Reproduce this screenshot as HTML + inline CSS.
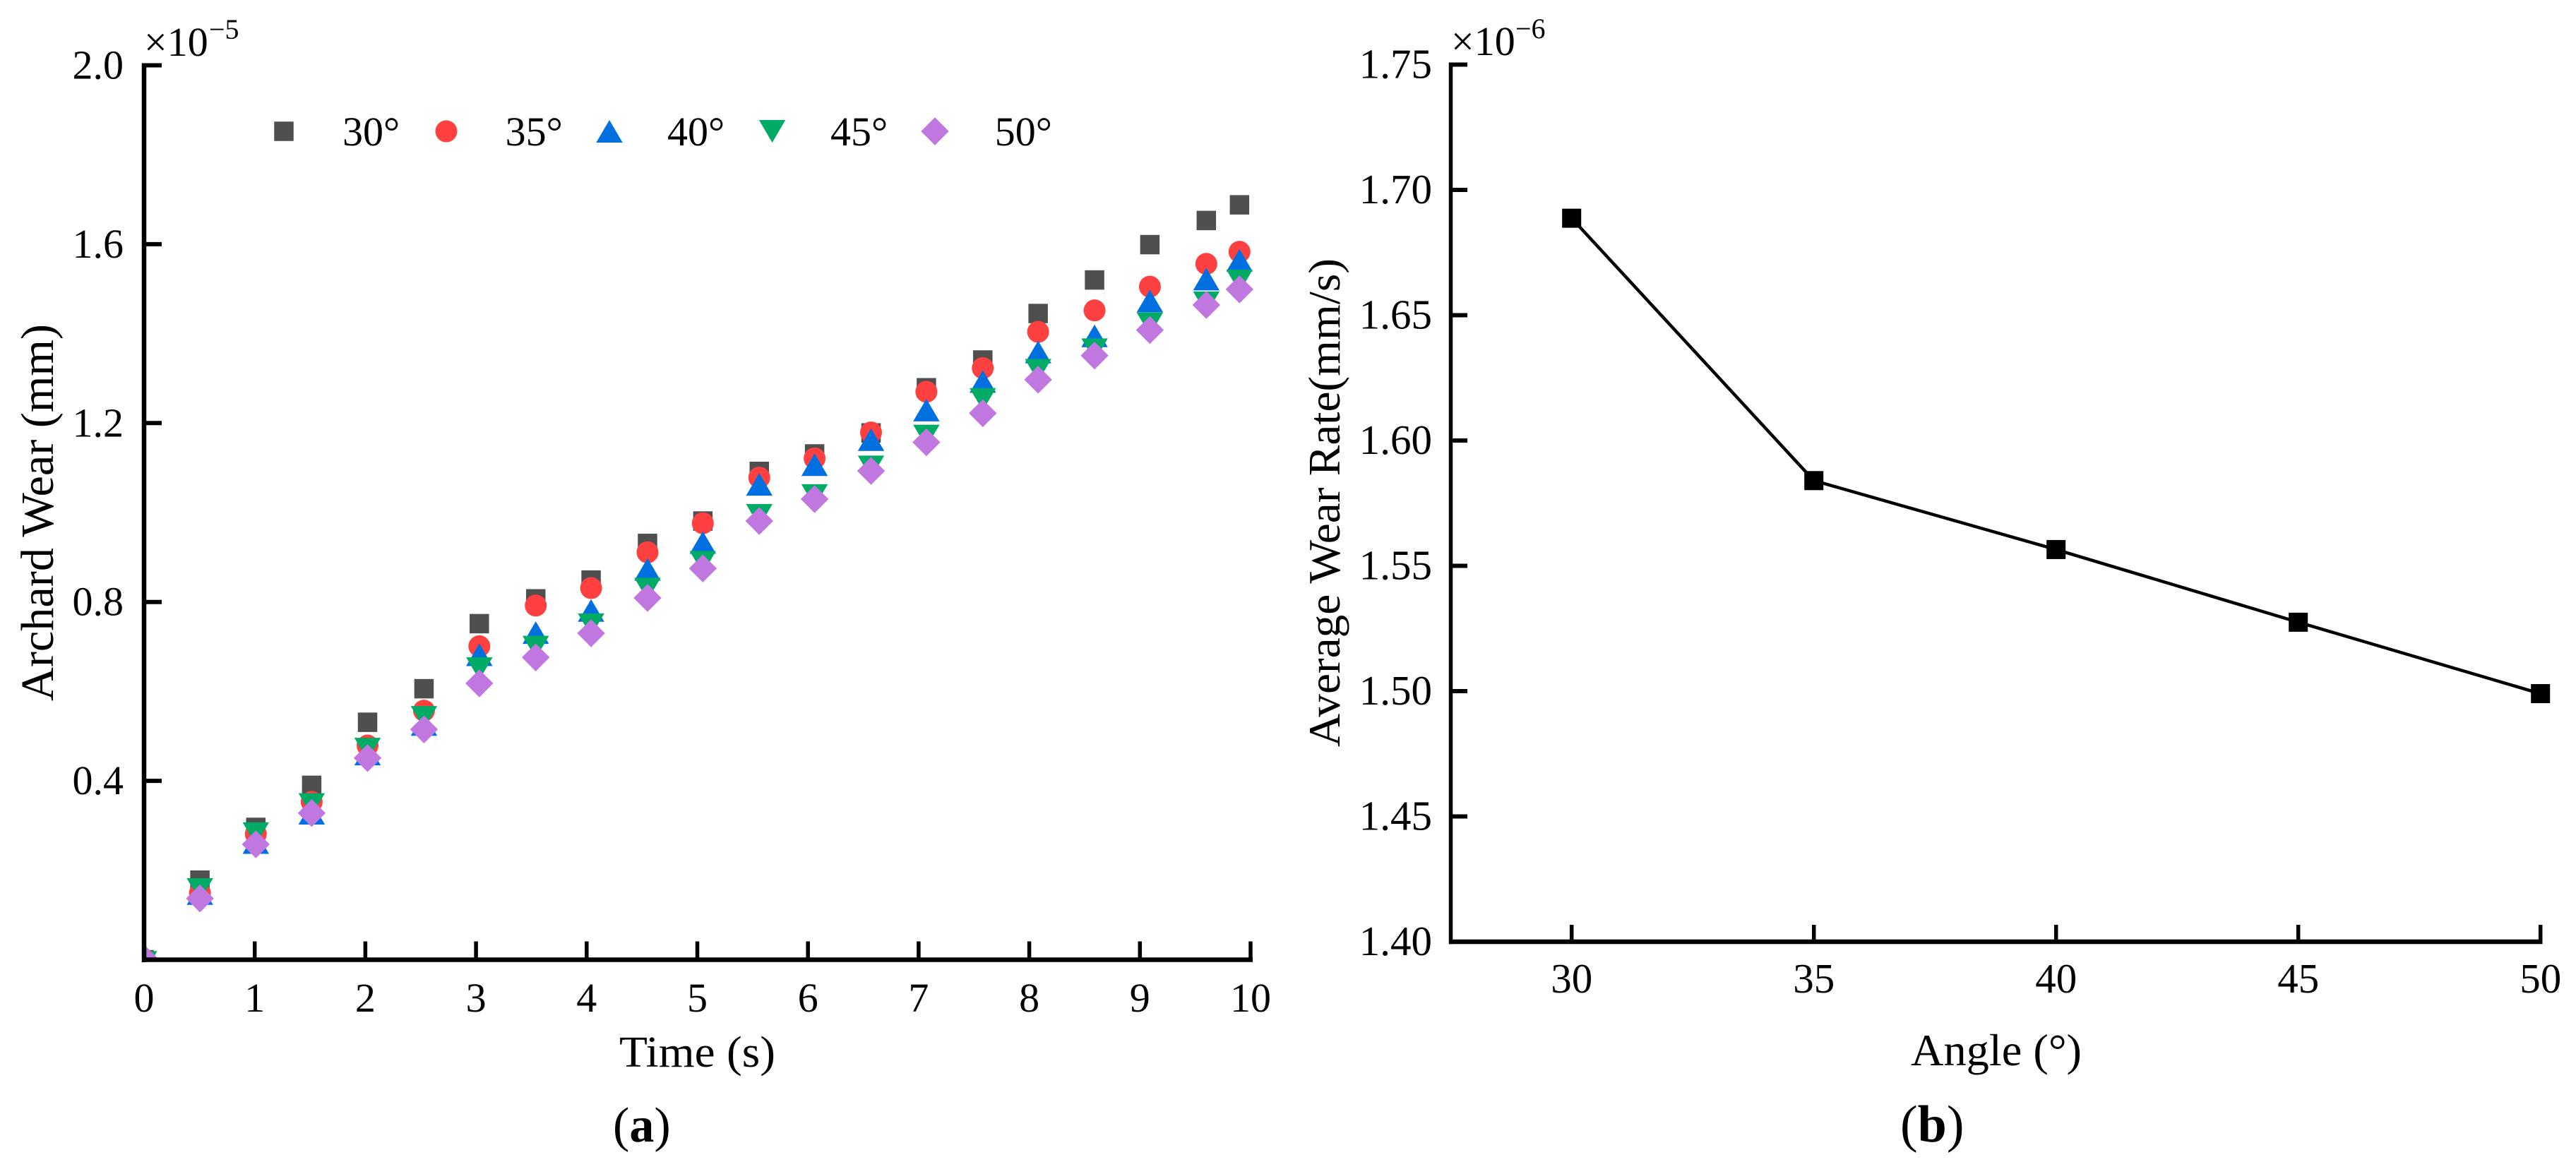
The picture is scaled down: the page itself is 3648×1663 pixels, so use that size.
<!DOCTYPE html>
<html lang="en">
<head>
<meta charset="utf-8">
<title>Archard wear and average wear rate</title>
<style>
html,body{margin:0;padding:0;background:#fff;}
svg{display:block;}
text{font-family:"Liberation Serif",serif;fill:#000;}
</style>
</head>
<body>
<svg id="fig" xmlns="http://www.w3.org/2000/svg" width="3648" height="1663" viewBox="0 0 3648 1663">
<defs><clipPath id="clipA"><rect x="204" y="60" width="1620" height="1297"/></clipPath></defs>
<rect width="3648" height="1663" fill="#fff"/>
<g id="panelA"></g>
<g id="panelB"></g>
</svg>
<script>
// Panel (a) data
const timeValues = [0,0.505,1.01,1.515,2.02,2.53,3.03,3.54,4.04,4.55,5.05,5.56,6.06,6.57,7.07,7.58,8.08,8.59,9.09,9.6,9.9];
const wear30 = [0,0.178,0.296,0.39,0.531,0.606,0.7515,0.807,0.849,0.931,0.981,1.092,1.131,1.178,1.279,1.341,1.445,1.52,1.599,1.653,1.688];
const wear35 = [0,0.149,0.281,0.353,0.479,0.557,0.701,0.792,0.831,0.911,0.976,1.078,1.121,1.179,1.27,1.323,1.404,1.452,1.505,1.556,1.583];
const wear40 = [0.006,0.148,0.262,0.3275,0.46,0.526,0.682,0.7315,0.781,0.873,0.933,1.063,1.107,1.163,1.229,1.293,1.359,1.395,1.473,1.522,1.564];
const wear45 = [-0.006,0.157,0.282,0.347,0.471,0.542,0.651,0.699,0.749,0.829,0.889,0.9936,1.038,1.102,1.171,1.253,1.318,1.364,1.422,1.469,1.518];
const wear50 = [0.003,0.137,0.258,0.328,0.451,0.515,0.618,0.676,0.73,0.809,0.875,0.981,1.03,1.093,1.157,1.222,1.297,1.351,1.408,1.464,1.499];
const seriesLabels = ["30°","35°","40°","45°","50°"];
const xTicksA = [0,1,2,3,4,5,6,7,8,9,10];
const yTicksA = [0.4,0.8,1.2,1.6,2.0];
// Panel (b) data
const angleValues = [30,35,40,45,50];
const rateValues = [1.6887,1.584,1.5565,1.5275,1.499];
const xTicksB = [30,35,40,45,50];
const yTicksB = [1.40,1.45,1.50,1.55,1.60,1.65,1.70,1.75];

const NS = "http://www.w3.org/2000/svg";
const xA = v => 204 + v * 156.7;
const yA = v => 1359.5 - v * 633.5;
const xB = v => 2225.7 + (v - 30) * 68.6;
const yB = v => 1334 - (v - 1.40) * 3550;
const COLORS = ["#4f4f4f","#ff4040","#006fe0","#00ab66","#c078e0"];

function mk(tag, parent, attrs, txt) {
  const el = document.createElementNS(NS, tag);
  for (const k in attrs) el.setAttribute(k, attrs[k]);
  if (txt !== undefined) el.textContent = txt;
  parent.appendChild(el);
  return el;
}
function marker(parent, kind, cx, cy) {
  if (kind === 0) return mk("rect", parent, {x:cx-13.75,y:cy-13.75,width:27.5,height:27.5,fill:COLORS[0]});
  if (kind === 1) return mk("circle", parent, {cx:cx,cy:cy,r:15.5,fill:COLORS[1]});
  if (kind === 2) return mk("polygon", parent, {points:`${cx},${cy-16} ${cx+18.7},${cy+16} ${cx-18.7},${cy+16}`,fill:COLORS[2]});
  if (kind === 3) return mk("polygon", parent, {points:`${cx},${cy+16} ${cx+18.7},${cy-16} ${cx-18.7},${cy-16}`,fill:COLORS[3]});
  return mk("polygon", parent, {points:`${cx},${cy-19.7} ${cx+19.7},${cy} ${cx},${cy+19.7} ${cx-19.7},${cy}`,fill:COLORS[4]});
}

const A = document.getElementById("panelA");
const B = document.getElementById("panelB");

// Panel (a) series
const clipGroup = mk("g", A, {"clip-path":"url(#clipA)"});


const allWear = [wear30, wear35, wear40, wear45, wear50];
allWear.forEach((vals, s) => {
  const g = mk("g", clipGroup, {});
  
  
  vals.forEach((v, i) => {
    const m = marker(g, s, xA(timeValues[i]), yA(v));
    
    
  });
});

// Panel (a) axes
const axAY = mk("line", A, {x1:xA(0),y1:yA(2.0)-3,x2:xA(0),y2:yA(0)+3.5,stroke:"#000","stroke-width":6.5});


const axAX = mk("line", A, {x1:xA(0),y1:yA(0),x2:xA(10)+3,y2:yA(0),stroke:"#000","stroke-width":6.5});


xTicksA.forEach(t => {
  const l = mk("line", A, {x1:xA(t),y1:yA(0),x2:xA(t),y2:yA(0)-26,stroke:"#000","stroke-width":5.5});
  
  
  const lb = mk("text", A, {x:xA(t),y:1433,"font-size":58,"text-anchor":"middle"}, String(t));
  
  
});
yTicksA.forEach(t => {
  const l = mk("line", A, {x1:xA(0),y1:yA(t),x2:xA(0)+25,y2:yA(t),stroke:"#000","stroke-width":6});
  
  
  const lb = mk("text", A, {x:175,y:yA(t)+19,"font-size":58,"text-anchor":"end"}, t.toFixed(1));
  
  
});

// Panel (a) legend
const legX = [402,632,863,1093.6,1324];
const legTX = [485,715.6,945,1176,1408.7];
seriesLabels.forEach((lab, s) => {
  const m = marker(A, s, legX[s], 186);
  
  
  const t = mk("text", A, {x:legTX[s],y:206,"font-size":58}, lab);
  
  
});

// Panel (b) line and points
const linePts = angleValues.map((a, i) => xB(a) + "," + yB(rateValues[i])).join(" ");
const rateLine = mk("polyline", B, {points:linePts,fill:"none",stroke:"#000","stroke-width":4.5});


angleValues.forEach((a, i) => {
  const r = mk("rect", B, {x:xB(a)-13.5,y:yB(rateValues[i])-13.5,width:27,height:27,fill:"#000"});
  
  
});

// Panel (b) axes
const axBY = mk("line", B, {x1:2054.5,y1:yB(1.75)-3,x2:2054.5,y2:yB(1.40)+3.2,stroke:"#000","stroke-width":5.5});


const axBX = mk("line", B, {x1:2052,y1:yB(1.40),x2:xB(50)+2.8,y2:yB(1.40),stroke:"#000","stroke-width":6.5});


xTicksB.forEach(t => {
  const l = mk("line", B, {x1:xB(t),y1:yB(1.40),x2:xB(t),y2:1310,stroke:"#000","stroke-width":5.5});
  
  
  const lb = mk("text", B, {x:xB(t),y:1406,"font-size":59,"text-anchor":"middle"}, String(t));
  
  
});
yTicksB.forEach(t => {
  const l = mk("line", B, {x1:2054,y1:yB(t),x2:2078,y2:yB(t),stroke:"#000","stroke-width":6});
  
  
  const lb = mk("text", B, {x:2028,y:yB(t)+19,"font-size":59,"text-anchor":"end"}, t.toFixed(2));
  
  
});
</script>
<svg style="position:absolute;left:0;top:0" width="3648" height="1663" viewBox="0 0 3648 1663" xmlns="http://www.w3.org/2000/svg">
  <text x="877" y="1511" font-size="62" textLength="221" lengthAdjust="spacingAndGlyphs">Time (s)</text>
  <text transform="translate(75,993) rotate(-90)" font-size="66" textLength="534" lengthAdjust="spacingAndGlyphs">Archard Wear (mm)</text>
  <text x="204" y="79" font-size="58">×10</text>
  <text x="296" y="55" font-size="40">−5</text>
  <text x="868" y="1617" font-size="70">(<tspan font-weight="bold">a</tspan>)</text>

  <text x="2706" y="1509" font-size="63" textLength="242" lengthAdjust="spacingAndGlyphs">Angle (°)</text>
  <text transform="translate(1897,1058) rotate(-90)" font-size="64" textLength="692" lengthAdjust="spacingAndGlyphs">Average Wear Rate(mm/s)</text>
  <text x="2055" y="78" font-size="58">×10</text>
  <text x="2146" y="54" font-size="40">−6</text>
  <text x="2691" y="1617" font-size="74">(<tspan font-weight="bold">b</tspan>)</text>
</svg>
</body>
</html>
